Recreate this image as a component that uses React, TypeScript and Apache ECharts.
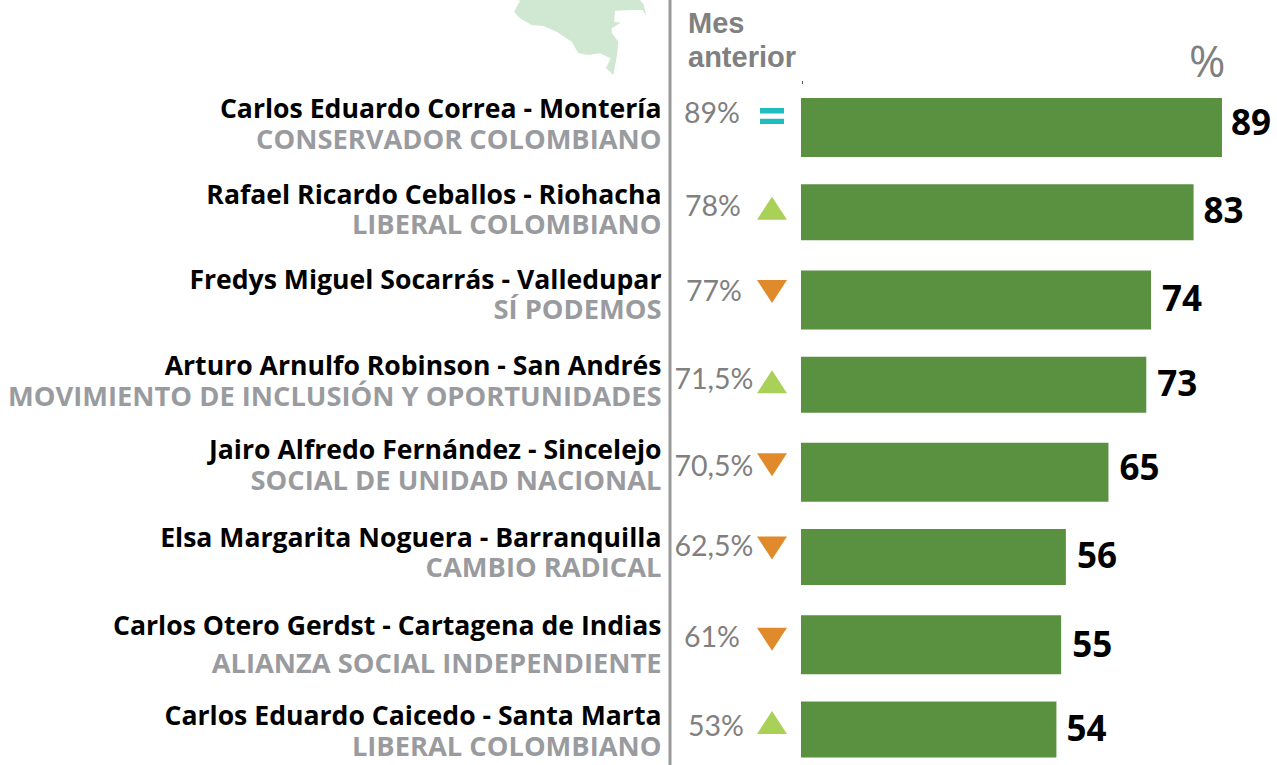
import React, { useEffect, useRef } from "react";
import * as echarts from "echarts";

const names = [
  "Carlos Eduardo Correa - Montería",
  "Rafael Ricardo Ceballos - Riohacha",
  "Fredys Miguel Socarrás - Valledupar",
  "Arturo Arnulfo Robinson - San Andrés",
  "Jairo Alfredo Fernández - Sincelejo",
  "Elsa Margarita Noguera - Barranquilla",
  "Carlos Otero Gerdst - Cartagena de Indias",
  "Carlos Eduardo Caicedo - Santa Marta",
];
const parties = [
  "CONSERVADOR COLOMBIANO",
  "LIBERAL COLOMBIANO",
  "SÍ PODEMOS",
  "MOVIMIENTO DE INCLUSIÓN Y OPORTUNIDADES",
  "SOCIAL DE UNIDAD NACIONAL",
  "CAMBIO RADICAL",
  "ALIANZA SOCIAL INDEPENDIENTE",
  "LIBERAL COLOMBIANO",
];
const values = [89, 83, 74, 73, 65, 56, 55, 54];
const previous = ["89%", "78%", "77%", "71,5%", "70,5%", "62,5%", "61%", "53%"];
const trends = ["same", "up", "down", "up", "down", "down", "down", "up"];

const nameDy = [-3, -3.5, -4.5, -4.5, -6.5, -5.5, 4.5, 1];
const prevDy = [-14.5, -7.5, -8.5, -6.5, -5.5, -12.5, -7.5, -4.5];
const markDy = [-10, -4, -7, -3, -6, -9, -4, -7];
const valueDy = [-6, -2.5, -2.5, -2, -5.5, -3, -1, -2];
const valueDx = [-1, 0, 1, 1, 1, 1, 1, 0];
const prevDx = [0, 1, 2, 2, 2, 2, 0, 4];

const mapShape = [
  [42, 35], [60, 3], [55, 0], [420, 0], [432, 15], [438, 48], [428, 30], [400, 30], [345, 32],
  [342, 65], [362, 68], [335, 85], [335, 98], [355, 125], [352, 160], [340, 225], [318, 205],
  [332, 175], [300, 160], [265, 165], [235, 160], [215, 125], [170, 95], [130, 78], [95, 75], [60, 55],
];

const PX = 4.73;
const NAME_FONT = "'Open Sans'";
const symbols: Record<string, any> = {
  same: { symbol: "path://M0 0H10V3H0Z M0 6H10V9H0Z", symbolSize: [24, 16], symbolRotate: 0, itemStyle: { color: "#1fbdbd", opacity: 1 } },
  up: { symbol: "triangle", symbolSize: [30, 23], symbolRotate: 0, itemStyle: { color: "#a9d158", opacity: 1 } },
  down: { symbol: "triangle", symbolSize: [30, 23], symbolRotate: 180, itemStyle: { color: "#e08a2c", opacity: 1 } },
};

export default function App() {
  const ref = useRef<HTMLDivElement>(null);
  useEffect(() => {
    const chart = echarts.init(ref.current!, undefined, { renderer: "svg" });
    const barLabel = (i: number) => ({
      show: true,
      position: "right",
      distance: 10,
      offset: [valueDx[i], valueDy[i]],
      fontFamily: NAME_FONT,
      fontWeight: "bold",
      fontSize: 35,
      color: "#000",
    });
    chart.setOption({
      animation: false,
      grid: { left: 0, width: 1277, top: 83, height: 689.5, containLabel: false },
      xAxis: { type: "value", min: -801 / PX, max: 476 / PX, show: false },
      yAxis: { type: "category", data: names, inverse: true, show: false },
      graphic: [
        { type: "polygon", silent: true, shape: { points: mapShape.map(([x, y]) => [500 + x / 3, y / 3]) }, style: { fill: "#d0e7d2" } },
        { type: "line", silent: true, shape: { x1: 670, y1: 0, x2: 670, y2: 765 }, style: { stroke: "#999999", lineWidth: 3 } },
        { type: "line", silent: true, shape: { x1: 802.5, y1: 81, x2: 802.5, y2: 84 }, style: { stroke: "#555", lineWidth: 1 } },
        { type: "text", x: 688, y: 8, style: { text: "Mes", font: "bold 29px 'Liberation Sans'", fill: "#808080" } },
        { type: "text", x: 688, y: 42, style: { text: "anterior", font: "bold 29px 'Liberation Sans'", fill: "#808080" } },
        { type: "text", x: 1189, y: 38, style: { text: "%", font: "44px 'Open Sans'", fill: "#808080" } },
      ],
      series: [
        {
          type: "bar",
          barWidth: 59,
          barGap: "-100%",
          itemStyle: { color: "#5a9140" },
          data: values.map((v, i) => (i % 2 === 0 ? { value: v, label: barLabel(i) } : null)),
        },
        {
          type: "bar",
          barWidth: 56,
          barGap: "-100%",
          itemStyle: { color: "#5a9140" },
          data: values.map((v, i) => (i % 2 === 1 ? { value: v, label: barLabel(i) } : null)),
        },
        {
          type: "scatter",
          symbolSize: 1,
          itemStyle: { color: "transparent", opacity: 1 },
          data: names.map((n, i) => ({
            value: [-139 / PX, n],
            label: {
              show: true,
              position: "left",
              distance: 0,
              offset: [0, nameDy[i]],
              align: "right",
              formatter: `{n|${n}}\n{p${i === 6 ? "w" : ""}|${parties[i]}}`,
              rich: {
                n: { fontFamily: NAME_FONT, fontWeight: "bold", fontSize: 26.6, color: "#000", align: "right", lineHeight: 30 },
                p: { fontFamily: NAME_FONT, fontWeight: "bold", fontSize: 27.3, color: "#9a9b9f", align: "right", lineHeight: 30 },
                pw: { fontFamily: NAME_FONT, fontWeight: "bold", fontSize: 27.3, color: "#9a9b9f", align: "right", lineHeight: 46 },
              },
            },
          })),
        },
        {
          type: "scatter",
          symbolSize: 1,
          itemStyle: { color: "transparent", opacity: 1 },
          data: previous.map((p, i) => ({
            value: [-89 / PX, names[i]],
            label: {
              show: true,
              position: "inside",
              offset: [prevDx[i], prevDy[i]],
              formatter: p,
              fontFamily: "Lato",
              fontSize: 28.5,
              color: "#808080",
            },
          })),
        },
        {
          type: "scatter",
          data: trends.map((t, i) => ({
            value: [-29 / PX, names[i]],
            symbolOffset: [0, markDy[i]],
            ...symbols[t],
          })),
        },
      ],
    });
    return () => chart.dispose();
  }, []);
  return (
    <div style={{ position: "absolute", left: 0, top: 0, width: 1277, height: 765, overflow: "hidden" }}>
      <div ref={ref} style={{ width: 1277, height: 800 }} />
    </div>
  );
}
